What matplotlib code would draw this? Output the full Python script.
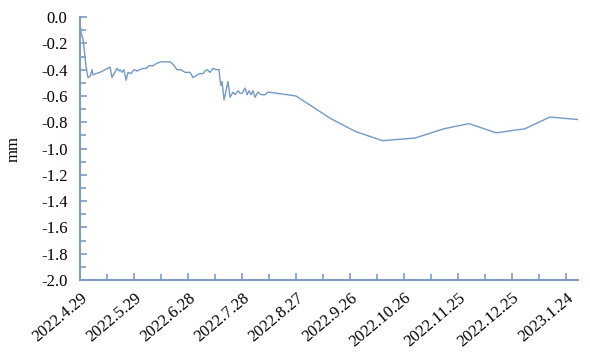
import matplotlib.pyplot as plt
from matplotlib.ticker import MultipleLocator

plt.rcParams['font.family'] = ['Liberation Serif', 'DejaVu Serif']

# days since 2022.4.29
days = [0, 0.3, 0.6, 1.7, 2.2, 3.3, 4.4, 5.6, 6.7, 7.2, 8.9, 11.1, 13.9, 16.7,
        17.8, 18.9, 20.6, 21.7, 22.2, 23.3, 24.4, 25.6, 26.7, 28.3, 30.0, 31.7,
        33.3, 35.0, 36.7, 38.3, 40.6, 42.8, 45.0, 47.2, 50.0, 51.7, 52.8, 53.9,
        56.1, 58.3, 61.1, 62.8, 65.0, 66.7, 68.3, 69.4, 70.6, 72.2, 73.9, 75.6,
        77.2, 77.8, 78.3, 78.9, 80.0, 81.1, 82.2, 83.3, 85.0, 86.1, 87.8, 88.9,
        90.0, 91.7, 92.8, 93.9, 95.0, 96.1, 97.2, 98.9, 100.6, 102.8, 104.4,
        120, 139, 153, 168, 186, 202, 216, 231, 247, 261, 277]
settle = [-0.06, -0.08, -0.12, -0.17, -0.23, -0.37, -0.46, -0.45, -0.40, -0.44,
          -0.43, -0.42, -0.40, -0.38, -0.46, -0.43, -0.39, -0.41, -0.40, -0.42,
          -0.40, -0.48, -0.42, -0.43, -0.40, -0.41, -0.40, -0.39, -0.39, -0.37,
          -0.37, -0.35, -0.34, -0.34, -0.34, -0.36, -0.38, -0.40, -0.40, -0.42,
          -0.42, -0.46, -0.44, -0.43, -0.43, -0.41, -0.40, -0.42, -0.39, -0.40,
          -0.40, -0.48, -0.52, -0.49, -0.63, -0.56, -0.49, -0.61, -0.57, -0.59,
          -0.56, -0.58, -0.58, -0.54, -0.59, -0.56, -0.59, -0.56, -0.61, -0.57,
          -0.59, -0.59, -0.57,
          -0.60, -0.77, -0.87, -0.94, -0.92, -0.85, -0.81, -0.88, -0.85, -0.76,
          -0.78]

tick_days = [0, 30, 60, 90, 120, 150, 180, 210, 240, 270]
tick_labels = ['2022.4.29', '2022.5.29', '2022.6.28', '2022.7.28', '2022.8.27',
               '2022.9.26', '2022.10.26', '2022.11.25', '2022.12.25', '2023.1.24']

axis_color = '#7d9cbf'
line_color = '#7399c4'

fig = plt.figure(figsize=(5.9, 3.57), dpi=100)
ax = fig.add_axes([0.1356, 0.2157, 0.8444, 0.7363])
ax.plot(days, settle, color=line_color, lw=1.0)

ax.set_xlim(0, 276.7)
ax.set_ylim(-2.0, 0.0)
ax.set_xticks(tick_days)
ax.set_xticklabels(tick_labels, rotation=40, ha='right', rotation_mode='anchor',
                   fontsize=12)
ax.xaxis.set_minor_locator(MultipleLocator(15))
ax.yaxis.set_major_locator(MultipleLocator(0.2))
ax.yaxis.set_minor_locator(MultipleLocator(0.1))
ax.set_yticklabels(['%.1f' % v for v in ax.get_yticks()], fontsize=12)
ax.set_ylabel('mm', fontsize=12, labelpad=14)

for s in ['top', 'right']:
    ax.spines[s].set_visible(False)
for s in ['left', 'bottom']:
    ax.spines[s].set_color(axis_color)
    ax.spines[s].set_linewidth(1.5)
ax.tick_params(which='both', direction='in', color=axis_color, width=1.2)
ax.tick_params(which='major', length=5)
ax.tick_params(which='minor', length=4)
ax.tick_params(axis='y', pad=9)
ax.tick_params(axis='x', pad=7)

fig.savefig('out.png', dpi=100)
